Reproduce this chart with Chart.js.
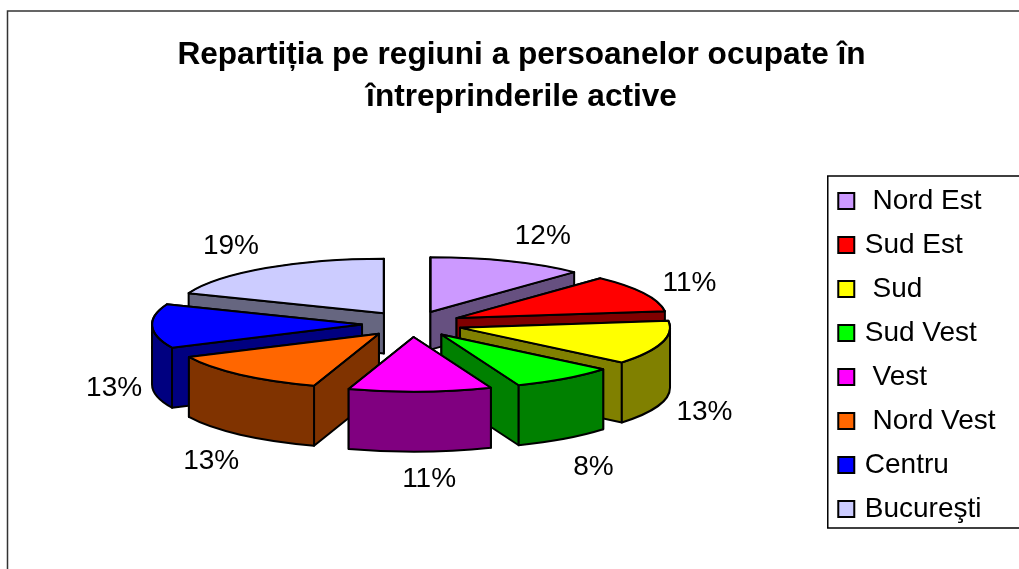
<!DOCTYPE html>
<html>
<head>
<meta charset="utf-8">
<style>html,body{margin:0;padding:0;background:#fff;overflow:hidden}canvas{display:block}</style>
<script src="https://cdn.jsdelivr.net/npm/chart.js@4/dist/chart.umd.min.js"></script>
</head>
<body>
<canvas id="c" width="1019" height="569"></canvas>
<script>
const titleLines = ['Repartiția pe regiuni a persoanelor ocupate în', 'întreprinderile active'];
const categories = [' Nord Est', 'Sud Est', ' Sud', 'Sud Vest', ' Vest', ' Nord Vest', 'Centru', 'Bucureşti'];
const values = [12, 11, 13, 8, 11, 13, 13, 19];
const topColors = ['#CC99FF', '#FF0000', '#FFFF00', '#00FF00', '#FF00FF', '#FF6600', '#0000FF', '#CCCCFF'];
const wallColors = ['#665080', '#800000', '#808000', '#008000', '#800080', '#803300', '#000080', '#666680'];

// projection of the pie into its tilted 3D look
const VIEW = {cx: 412, cy: 324, r: 210, tilt: 0.26, explode: 50, depth: 60};
const labelNudge = [[24,-18],[19,-6],[14,51],[11,34],[8,20],[-9,36],[-8,60],[-18,-15]];

function geom(el, i) {
  const mid = (el.startAngle + el.endAngle) / 2;
  const px = VIEW.cx + Math.cos(mid) * VIEW.explode;
  const py = VIEW.cy + Math.sin(mid) * VIEW.explode * VIEW.tilt;
  const s = Math.sin(mid);
  const d = s > 0 ? VIEW.depth : VIEW.depth + 24 * s;
  return {el, i, mid, px, py, d, a: el.startAngle, b: el.endAngle};
}
function pt(g, ang) {
  return [g.px + Math.cos(ang) * VIEW.r, g.py + Math.sin(ang) * VIEW.r * VIEW.tilt];
}
function sideWall(ctx, g, ang) {
  const [x, y] = pt(g, ang);
  ctx.beginPath();
  ctx.moveTo(g.px, g.py);
  ctx.lineTo(x, y);
  ctx.lineTo(x, y + g.d);
  ctx.lineTo(g.px, g.py + g.d);
  ctx.closePath();
  ctx.fill();
  ctx.stroke();
}
function outerWall(ctx, g) {
  [0, 2 * Math.PI, -2 * Math.PI].forEach(turn => {
    const a = Math.max(g.a, turn), b = Math.min(g.b, turn + Math.PI);
    if (b <= a) return;
    const ry = VIEW.r * VIEW.tilt;
    ctx.beginPath();
    ctx.ellipse(g.px, g.py, VIEW.r, ry, 0, a, b);
    ctx.ellipse(g.px, g.py + g.d, VIEW.r, ry, 0, b, a, true);
    ctx.closePath();
    ctx.fill();
    ctx.stroke();
  });
}

const pie3d = {
  id: 'pie3d',
  beforeDatasetDraw(chart, args) {
    const ctx = chart.ctx;
    const arcs = chart.getDatasetMeta(args.index).data;
    const gs = arcs.map(geom).sort((p, q) => p.py - q.py);
    gs.forEach(g => {
      ctx.save();
      ctx.fillStyle = wallColors[g.i];
      ctx.strokeStyle = '#000';
      ctx.lineWidth = 2;
      ctx.lineJoin = 'round';
      const startVisible = -Math.cos(g.a) > 0, endVisible = Math.cos(g.b) > 0;
      if (!startVisible) sideWall(ctx, g, g.a);
      if (!endVisible) sideWall(ctx, g, g.b);
      if (startVisible) sideWall(ctx, g, g.a);
      if (endVisible) sideWall(ctx, g, g.b);
      outerWall(ctx, g);
      ctx.restore();

      const el = g.el;
      const s = VIEW.r / el.outerRadius;
      ctx.save();
      ctx.translate(g.px, g.py);
      ctx.scale(s, s * VIEW.tilt);
      ctx.translate(-el.x, -el.y);
      el.draw(ctx);
      ctx.restore();

      ctx.save();
      ctx.strokeStyle = '#000';
      ctx.lineWidth = 2;
      ctx.lineJoin = 'round';
      ctx.beginPath();
      ctx.moveTo(g.px, g.py);
      ctx.ellipse(g.px, g.py, VIEW.r, VIEW.r * VIEW.tilt, 0, g.a, g.b);
      ctx.closePath();
      ctx.stroke();
      ctx.restore();
    });
    return false;
  },
  afterDatasetsDraw(chart) {
    const ctx = chart.ctx;
    const arcs = chart.getDatasetMeta(0).data;
    ctx.save();
    ctx.fillStyle = '#000';
    ctx.font = '28px "Liberation Sans"';
    ctx.textAlign = 'center';
    ctx.textBaseline = 'middle';
    arcs.forEach((el, i) => {
      const mid = (el.startAngle + el.endAngle) / 2;
      const rr = VIEW.r + VIEW.explode + 30;
      const x = VIEW.cx + Math.cos(mid) * rr;
      const y = VIEW.cy + Math.sin(mid) * rr * VIEW.tilt + Math.max(0, Math.sin(mid)) * VIEW.depth;
      ctx.fillText(values[i] + '%', x + labelNudge[i][0], y + labelNudge[i][1]);
    });
    ctx.restore();
  },
  afterDraw(chart) {
    // full-size square legend keys over the library's narrow ones
    const ctx = chart.ctx;
    ctx.save();
    ctx.strokeStyle = '#000';
    ctx.lineWidth = 2;
    chart.legend.legendHitBoxes.forEach((hb, i) => {
      const yc = Math.round(hb.top + hb.height / 2);
      ctx.fillStyle = topColors[i];
      ctx.fillRect(hb.left - 3.5, yc - 8, 16, 16);
      ctx.strokeRect(hb.left - 3.5, yc - 8, 16, 16);
    });
    ctx.restore();
  },
  beforeDraw(chart) {
    const ctx = chart.ctx;
    ctx.save();
    ctx.fillStyle = '#fff';
    ctx.fillRect(0, 0, chart.width, chart.height);
    ctx.strokeStyle = '#333';
    ctx.lineWidth = 1.5;
    ctx.beginPath();
    ctx.moveTo(7.5, chart.height + 2);
    ctx.lineTo(7.5, 11);
    ctx.lineTo(chart.width + 2, 11);
    ctx.stroke();
    const hb = chart.legend.legendHitBoxes;
    const last = hb[hb.length - 1];
    const left = hb[0].left - 14, top = hb[0].top - 11, bottom = last.top + last.height + 5;
    ctx.strokeStyle = '#000';
    ctx.beginPath();
    ctx.moveTo(chart.width + 2, top);
    ctx.lineTo(left, top);
    ctx.lineTo(left, bottom);
    ctx.lineTo(chart.width + 2, bottom);
    ctx.stroke();
    ctx.restore();
  }
};

new Chart(document.getElementById('c'), {
  type: 'pie',
  data: {
    labels: categories,
    datasets: [{
      data: values,
      backgroundColor: topColors,
      borderColor: '#000',
      borderWidth: 2
    }]
  },
  plugins: [pie3d],
  options: {
    responsive: false,
    animation: false,
    layout: {padding: {left: 37.5, right: 13.5, top: 0, bottom: 30}},
    plugins: {
      tooltip: {enabled: false},
      title: {
        display: true,
        text: titleLines,
        color: '#000',
        font: {family: '"Liberation Sans"', size: 31.6, weight: 'bold', lineHeight: 1.33},
        padding: {top: 34.5, bottom: 30}
      },
      legend: {
        position: 'right',
        align: 'end',
        labels: {
          color: '#000',
          font: {family: '"Liberation Sans"', size: 28},
          boxWidth: 16,
          boxHeight: 16,
          padding: 16,
          usePointStyle: true,
          pointStyle: 'rect',
          pointStyleWidth: 9
        }
      }
    }
  }
});
</script>
</body>
</html>
